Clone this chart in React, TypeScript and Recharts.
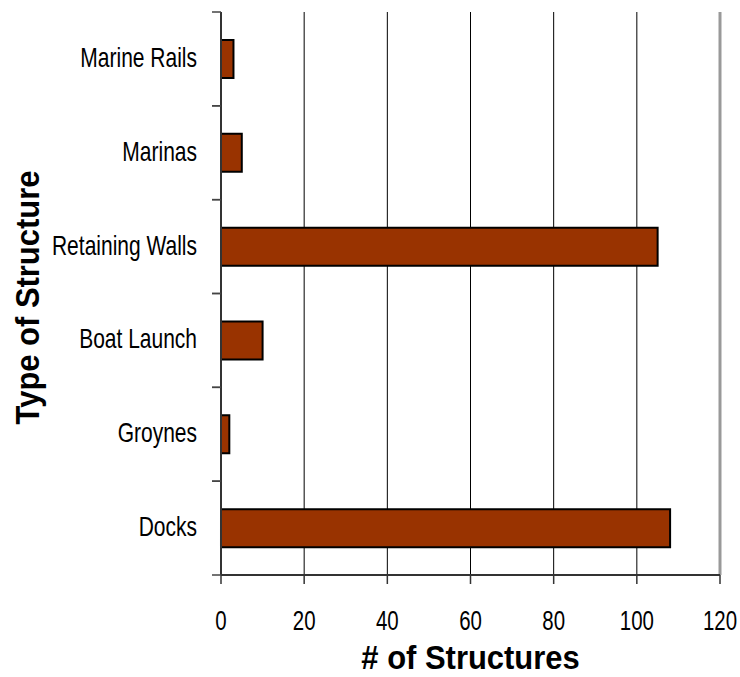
import React from 'react';
import { BarChart, Bar, XAxis, YAxis, CartesianGrid, ReferenceLine, Label } from 'recharts';

// Structure types, listed top to bottom
const categories = ['Marine Rails', 'Marinas', 'Retaining Walls', 'Boat Launch', 'Groynes', 'Docks'];
// Number of structures of each type
const counts = [3, 5, 105, 10, 2, 108];
// Value axis ticks
const xTicks = [0, 20, 40, 60, 80, 100, 120];

const data = categories.map((name, i) => ({ name, count: counts[i] }));

const W = 740;
const H = 677;
const MARGIN = { top: 12, right: 20, bottom: 0, left: 0 };
const Y_AXIS_W = 221;
const X_AXIS_H = 102;
const PLOT_H = H - MARGIN.top - X_AXIS_H;
const BAND = PLOT_H / categories.length;
const FONT = '"Liberation Sans", Arial, Helvetica, sans-serif';

function CategoryTick(props: any) {
  const { y, payload } = props;
  const axisX = MARGIN.left + Y_AXIS_W;
  return (
    <g>
      <line x1={axisX - 9} x2={axisX} y1={y - BAND / 2} y2={y - BAND / 2} stroke="#444" strokeWidth={1.5} />
      <line x1={axisX - 9} x2={axisX} y1={y + BAND / 2} y2={y + BAND / 2} stroke="#444" strokeWidth={1.5} />
      <text
        transform={`translate(${axisX - 24},${y + 8}) scale(0.75,1)`}
        textAnchor="end"
        fontSize={28}
        fontFamily={FONT}
        fill="#000"
      >
        {payload.value}
      </text>
    </g>
  );
}

function ValueTick(props: any) {
  const { x, y, payload } = props;
  return (
    <text
      transform={`translate(${x},${y + 44}) scale(0.73,1)`}
      textAnchor="middle"
      fontSize={28}
      fontFamily={FONT}
      fill="#000"
    >
      {payload.value}
    </text>
  );
}

function XTitle(props: any) {
  const vb = props.viewBox;
  return (
    <text
      transform={`translate(${vb.x + vb.width / 2},${vb.y + 94}) scale(0.91,1)`}
      textAnchor="middle"
      fontSize={34}
      fontWeight="bold"
      fontFamily={FONT}
      fill="#000"
    >
      # of Structures
    </text>
  );
}

function YTitle(props: any) {
  const vb = props.viewBox;
  return (
    <text
      transform={`translate(39,${vb.y + vb.height / 2 + 4}) rotate(-90) scale(0.91,1)`}
      textAnchor="middle"
      fontSize={34}
      fontWeight="bold"
      fontFamily={FONT}
      fill="#000"
    >
      Type of Structure
    </text>
  );
}

export default function App() {
  return (
    <div style={{ position: 'absolute', left: 0, top: 0, width: W, height: H, background: '#fff' }}>
      <BarChart width={W} height={H} data={data} layout="vertical" margin={MARGIN}>
        <CartesianGrid horizontal={false} vertical={true} stroke="#000" strokeWidth={1} />
        <XAxis
          type="number"
          dataKey="count"
          domain={[0, 120]}
          ticks={xTicks}
          interval={0}
          height={X_AXIS_H}
          tickSize={9}
          tickLine={{ stroke: '#333', strokeWidth: 1.5 }}
          axisLine={{ stroke: '#333', strokeWidth: 2 }}
          tick={<ValueTick />}
        >
          <Label content={<XTitle />} />
        </XAxis>
        <XAxis
          xAxisId="top"
          orientation="top"
          type="number"
          domain={[0, 120]}
          ticks={xTicks}
          height={0}
          tick={false}
          tickLine={false}
          axisLine={{ stroke: '#999', strokeWidth: 2 }}
        />
        <YAxis
          type="category"
          dataKey="name"
          width={Y_AXIS_W}
          interval={0}
          tickLine={false}
          axisLine={{ stroke: '#333', strokeWidth: 2 }}
          tick={<CategoryTick />}
        >
          <Label content={<YTitle />} />
        </YAxis>
        <ReferenceLine x={120} stroke="#999" strokeWidth={3} />
        <Bar
          dataKey="count"
          fill="#993300"
          stroke="#000"
          strokeWidth={2}
          barSize={38}
          isAnimationActive={false}
        />
      </BarChart>
    </div>
  );
}
